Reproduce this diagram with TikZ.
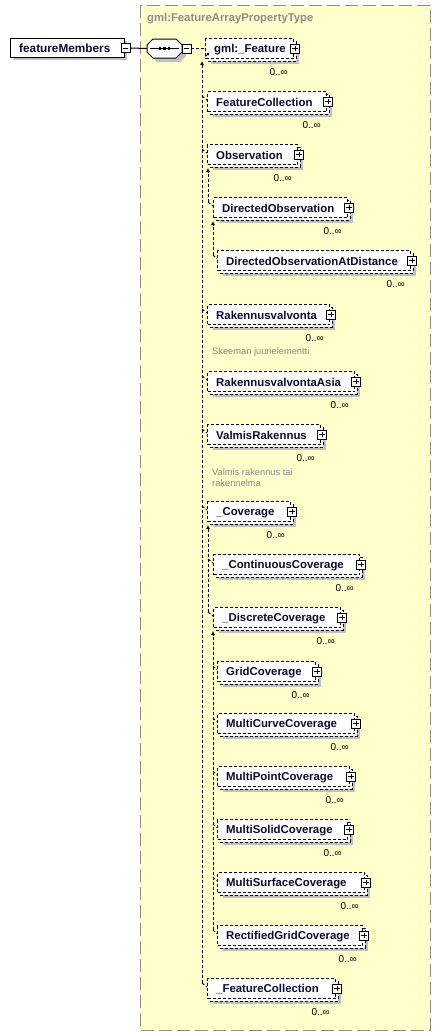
\documentclass[tikz,border=0pt]{standalone}
\usepackage{fontspec}
\setmainfont{Liberation Sans}
\usetikzlibrary{arrows.meta}
\definecolor{bgyellow}{HTML}{FFFFCC}
\definecolor{framec}{HTML}{8C8C8C}
\definecolor{shadec}{HTML}{C0C0C0}
\definecolor{inkc}{HTML}{0A0A30}
\definecolor{notec}{HTML}{8A8A8A}
\newcommand\elemfont{\bfseries\fontsize{11.4}{13}\selectfont}
\newcommand\elem[5]{%
  \fill[shadec] (#2+6,#3+6) rectangle (#2+#4+6,#3+26);
  \draw[boxline,fill=white] (#2+3,#3+3) rectangle (#2+#4+3,#3+23);
  \node[elembox,minimum width=#4pt] (#1) at (#2,#3) {};
  \node[elemtext] (#1-t) at ([xshift=9pt,yshift=-1pt]#1.west) {#5};
  \node[pbox] (#1-x) at ([xshift=1pt]#1.east) {};
  \node[occ] (#1-o) at (#2+#4-5,#3+34) {0..∞};
}
\begin{document}
\begin{tikzpicture}[x=1pt,y=-1pt,
  boxline/.style={draw=black,line width=1pt,dash pattern=on 3pt off 2pt},
  elembox/.style={boxline,fill=white,anchor=north west,minimum height=20pt,inner sep=0pt},
  elemtext/.style={anchor=west,inner sep=0pt,text=inkc,font=\elemfont},
  occ/.style={anchor=east,inner sep=0pt,font=\fontsize{10}{12}\selectfont},
  notetext/.style={anchor=west,inner sep=0pt,align=left,text=notec,font=\fontsize{9.3}{10.7}\selectfont},
  conn/.style={line width=1pt,dash pattern=on 3pt off 2pt},
  tip/.style={-{Latex[length=4pt,width=4pt]}},
  pmbase/.style={draw=black,solid,fill=white,line width=0.9pt,minimum size=9pt,inner sep=0pt},
  pbox/.style={pmbase,path picture={
     \draw[line width=0.9pt] ([xshift=1.8pt]path picture bounding box.west) -- ([xshift=-1.8pt]path picture bounding box.east);
     \draw[line width=0.9pt] ([yshift=-1.8pt]path picture bounding box.north) -- ([yshift=1.8pt]path picture bounding box.south);}},
  mbox/.style={pmbase,path picture={
     \draw[line width=0.9pt] ([xshift=1.8pt]path picture bounding box.west) -- ([xshift=-1.8pt]path picture bounding box.east);}}
]
\useasboundingbox (0,0) rectangle (441,1036);
\fill[white] (0,0) rectangle (441,1036);

% type frame
\draw[fill=bgyellow,draw=framec,line width=1pt,dash pattern=on 13pt off 5pt] (140,5) rectangle (430,1030);
\node[anchor=west,inner sep=0pt,text=framec,font=\bfseries\fontsize{11.3}{13}\selectfont] (title) at (147,19) {gml:FeatureArrayPropertyType};

% featureMembers
\fill[shadec] (13,41) rectangle (127,60);
\node[draw=black,line width=1pt,fill=white,anchor=north west,minimum width=114pt,minimum height=19pt,inner sep=0pt] (fm) at (10,38) {};
\node[elemtext,font=\bfseries\fontsize{11.8}{13}\selectfont] (fm-t) at ([xshift=9pt]fm.west) {featureMembers};
\node[mbox] (fm-x) at ([xshift=0.5pt]fm.east) {};

% sequence compositor
\fill[shadec] (157,43) -- (180,43) -- (186,49) -- (186,56) -- (180,62) -- (157,62) -- (151,56) -- (151,49) -- cycle;
\node[inner sep=0pt,minimum width=35pt,minimum height=19pt] (seq) at (164.5,48.5) {};
\draw[line width=1pt,fill=white] (153,39) -- (176,39) -- (182,45) -- (182,52) -- (176,58) -- (153,58) -- (147,52) -- (147,45) -- cycle;
\draw[line width=1pt] (150,48.5) -- (179,48.5);
\foreach \dx in {160,164.5,169} \fill (\dx-1.3,47.2) rectangle (\dx+1.3,49.8);
\node[mbox] (seq-x) at (186.5,48.5) {};
\draw[line width=1pt] (fm-x.east) -- (seq.west);

% connectors (trunks)
\coordinate (t0a) at (202,983);
\coordinate (t0b) at (202,61);
\draw[conn,tip] (t0a) -- (t0b);
\coordinate (t1a) at (208,202);
\coordinate (t1b) at (208,168);
\draw[conn,tip] (t1a) -- (t1b);
\coordinate (t2a) at (213,255);
\coordinate (t2b) at (213,221);
\draw[conn,tip] (t2a) -- (t2b);
\coordinate (t3a) at (208,612);
\coordinate (t3b) at (208,525);
\draw[conn,tip] (t3a) -- (t3b);
\coordinate (t4a) at (213,930);
\coordinate (t4b) at (213,631);
\draw[conn,tip] (t4a) -- (t4b);

% elements
\elem{feat}{205}{38}{88}{gml:\_Feature}
\elem{fc}{207}{91}{119}{FeatureCollection}
\elem{obs}{207}{144}{90}{Observation}
\elem{dobs}{213}{197}{134}{DirectedObservation}
\elem{doad}{217}{250}{193}{DirectedObservationAtDistance}
\elem{rv}{207}{304}{122}{Rakennusvalvonta}
\elem{rva}{207}{371}{147}{RakennusvalvontaAsia}
\elem{vr}{207}{424}{113}{ValmisRakennus}
\elem{cov}{207}{501}{83}{\_Coverage}
\elem{ccov}{213}{554}{146}{\_ContinuousCoverage}
\elem{dcov}{213}{607}{127}{\_DiscreteCoverage}
\elem{gcov}{217}{661}{98}{GridCoverage}
\elem{mccov}{217}{713}{137}{MultiCurveCoverage}
\elem{mpcov}{217}{766}{132}{MultiPointCoverage}
\elem{mscov}{217}{819}{130}{MultiSolidCoverage}
\elem{msfcov}{217}{872}{147}{MultiSurfaceCoverage}
\elem{rgcov}{217}{925}{145}{RectifiedGridCoverage}
\elem{ffc}{207}{978}{128}{\_FeatureCollection}

% stubs from trunks to elements
\foreach \n/\tx in {fc/202,obs/202,rv/202,rva/202,vr/202,cov/202,ffc/202,dobs/208,doad/213,ccov/208,dcov/208,gcov/213,mccov/213,mpcov/213,mscov/213,msfcov/213,rgcov/213}
  \draw[conn] (\n.north west -| \tx,0) ++(0,5) -- ([yshift=-9pt]\n.north west);

% compositor to head element
\draw[conn] (seq-x.east) -- (feat.west);
% substitution group mark
\draw[line width=0.9pt,-{Latex[length=3pt,width=3pt]}] (205.5,56.5) -- (209.5,52.5);

% annotations
\node[notetext] (n1) at (212,352) {Skeeman juurielementti};
\node[notetext] (n2) at (212,478) {Valmis rakennus tai\\rakennelma};
\end{tikzpicture}
\end{document}
